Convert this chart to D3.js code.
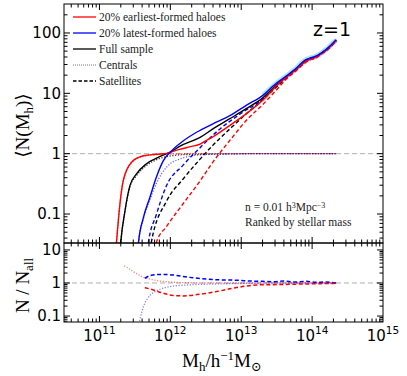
<!DOCTYPE html>
<html>
<head>
<meta charset="UTF-8">
<script src="https://d3js.org/d3.v7.min.js"></script>
<style>
  body { margin: 0; background: #fff; }
  svg { display: block; }
</style>
</head>
<body>
<div id="chart"></div>
<script>
// each curve: [log10(Mh), log10(value)]
const fullAll = [[11.28,-1.8],[11.3,-1.48],[11.36,-0.95],[11.43,-0.53],[11.52,-0.34],[11.66,-0.17],[11.85,-0.05],[12.02,0.04],[12.13,0.12],[12.42,0.27],[12.6,0.41],[12.84,0.58],[13.07,0.745],[13.3,0.92],[13.5,1.14],[13.64,1.28],[13.78,1.41],[13.9,1.53],[13.96,1.57],[14.04,1.6],[14.12,1.66],[14.2,1.72],[14.34,1.88]];
const earlyAll = [[11.22,-1.8],[11.24,-1.48],[11.335,-0.45],[11.45,-0.145],[11.62,-0.035],[11.8,-0.01],[11.95,0.005],[12.02,0.03],[12.13,0.07],[12.3,0.12],[12.42,0.16],[12.51,0.22],[12.6,0.28],[12.84,0.47],[13.07,0.66],[13.3,0.88],[13.5,1.13],[13.64,1.27],[13.78,1.4],[13.9,1.52],[13.96,1.56],[14.04,1.59],[14.12,1.65],[14.2,1.72],[14.34,1.87]];
const lateAll = [[11.53,-1.8],[11.55,-1.48],[11.62,-1.06],[11.71,-0.73],[11.8,-0.4],[11.9,-0.12],[12.02,0.05],[12.18,0.21],[12.37,0.355],[12.6,0.495],[12.84,0.63],[13.07,0.8],[13.31,0.97],[13.45,1.12],[13.5,1.17],[13.64,1.29],[13.78,1.42],[13.9,1.55],[13.96,1.58],[14.04,1.61],[14.12,1.66],[14.2,1.73],[14.34,1.89]];

const fullCen = [[11.28,-1.8],[11.3,-1.48],[11.36,-0.96],[11.43,-0.55],[11.52,-0.37],[11.66,-0.2],[11.85,-0.08],[12.02,-0.035],[12.2,-0.015],[12.42,-0.01],[12.8,-0.005],[13.2,0],[14.34,0]];
const earlyCen = [[11.22,-1.8],[11.24,-1.48],[11.335,-0.46],[11.45,-0.15],[11.62,-0.04],[11.8,-0.015],[12.0,-0.005],[12.4,0],[14.34,0]];
const lateCen = [[11.53,-1.8],[11.55,-1.48],[11.62,-1.08],[11.71,-0.77],[11.8,-0.5],[11.95,-0.22],[12.18,-0.07],[12.42,-0.02],[12.65,-0.008],[13.12,0],[14.34,0]];

const fullSat = [[11.7,-1.8],[11.73,-1.48],[11.95,-0.78],[12.18,-0.42],[12.42,-0.09],[12.6,0.14],[12.84,0.41],[13.07,0.66],[13.26,0.85],[13.5,1.11],[13.64,1.256],[13.78,1.393],[13.9,1.515],[13.96,1.558],[14.04,1.589],[14.12,1.65],[14.2,1.712],[14.34,1.874]];
const earlySat = [[11.77,-1.8],[11.8,-1.48],[11.95,-1.2],[12.18,-0.83],[12.42,-0.45],[12.6,-0.14],[12.84,0.22],[13.07,0.55],[13.31,0.82],[13.5,1.06],[13.64,1.24],[13.78,1.38],[13.9,1.505],[13.96,1.55],[14.04,1.58],[14.12,1.64],[14.2,1.71],[14.34,1.865]];
const lateSat = [[11.66,-1.8],[11.69,-1.48],[11.8,-1.02],[11.95,-0.52],[12.18,-0.19],[12.42,0.1],[12.7,0.41],[13.0,0.67],[13.3,0.9],[13.5,1.14],[13.64,1.27],[13.78,1.4],[13.9,1.53],[13.96,1.57],[14.04,1.6],[14.12,1.65],[14.2,1.72],[14.34,1.88]];

// ratios to the full sample
const ratioCenEarly = [[11.35,0.52],[11.42,0.43],[11.48,0.34],[11.56,0.24],[11.64,0.16],[11.75,0.1],[11.85,0.06],[12.0,0.03],[12.18,0.01],[12.6,0.003],[13.0,0],[14.34,0]];
const ratioCenLate = [[11.54,-1.4],[11.62,-0.72],[11.67,-0.5],[11.71,-0.38],[11.77,-0.28],[11.83,-0.21],[11.99,-0.11],[12.23,-0.06],[12.65,-0.03],[13.12,-0.01],[13.5,0],[14.34,0]];
const ratioSatLate = [[11.64,0.14],[11.71,0.22],[11.85,0.26],[12.02,0.245],[12.27,0.17],[12.65,0.1],[12.98,0.08],[13.12,0.06],[13.3,0.05],[13.45,0.04],[13.6,0.06],[13.75,0.03],[13.92,0.05],[14.05,0.02],[14.2,0.03],[14.34,0]];
const ratioSatEarly = [[11.64,-0.14],[11.76,-0.21],[11.9,-0.31],[12.04,-0.38],[12.18,-0.39],[12.42,-0.34],[12.65,-0.26],[12.88,-0.16],[13.05,-0.1],[13.21,-0.06],[13.45,-0.05],[13.68,-0.04],[13.9,-0.03],[14.1,-0.02],[14.34,-0.01]];

const massTicks = [1e11, 1e12, 1e13, 1e14, 1e15];
const massTickExp = ["11", "12", "13", "14", "15"];
const nTicks = [0.1, 1, 10, 100];
const nTickLabels = ["0.1", "1", "10", "100"];
const ratioTicks = [0.1, 1, 10];
const ratioTickLabels = ["0.1", "1", "10"];
const legendLabels = ["20% earliest-formed haloes", "20% latest-formed haloes", "Full sample", "Centrals", "Satellites"];

const W = 407, H = 376;
const left = 64, right = 383, topY = 4, midY = 243, botY = 322;
const RED = "#ff0000", BLUE = "#0000ff";

const svg = d3.select("#chart").append("svg").attr("width", W).attr("height", H);

const x = d3.scaleLog().domain([Math.pow(10, 10.5), 1e15]).range([left, right]);
const yTop = d3.scaleLog().domain([Math.pow(10, -1.48), Math.pow(10, 2.48)]).range([midY, topY]);
const yBot = d3.scaleLog().domain([Math.pow(10, -1.18), Math.pow(10, 1.21)]).range([botY, midY]);

const defs = svg.append("defs");
defs.append("clipPath").attr("id", "clipTop").append("rect")
  .attr("x", left).attr("y", topY).attr("width", right - left).attr("height", midY - topY);
defs.append("clipPath").attr("id", "clipBot").append("rect")
  .attr("x", left).attr("y", midY).attr("width", right - left).attr("height", botY - midY);

const lineTop = d3.line().x(d => x(Math.pow(10, d[0]))).y(d => yTop(Math.pow(10, d[1]))).curve(d3.curveMonotoneX);
const lineBot = d3.line().x(d => x(Math.pow(10, d[0]))).y(d => yBot(Math.pow(10, d[1]))).curve(d3.curveMonotoneX);

const DOT = "1.2,1.6", DASH = "4,2.5";

const gTop = svg.append("g").attr("clip-path", "url(#clipTop)");
const gBot = svg.append("g").attr("clip-path", "url(#clipBot)");

// reference lines at 1
gTop.append("line").attr("x1", left).attr("x2", right).attr("y1", yTop(1)).attr("y2", yTop(1))
  .attr("stroke", "#b0b0b0").attr("stroke-dasharray", "5,3").attr("stroke-width", 1);
gBot.append("line").attr("x1", left).attr("x2", right).attr("y1", yBot(1)).attr("y2", yBot(1))
  .attr("stroke", "#b0b0b0").attr("stroke-dasharray", "5,3").attr("stroke-width", 1);

// error bands on the tail
gTop.append("path").attr("d", lineTop(earlyAll.filter(d => d[0] >= 13.3)))
  .attr("fill", "none").attr("stroke", "#ff9aa8").attr("stroke-opacity", 0.45).attr("stroke-width", 4);
gTop.append("path").attr("d", lineTop(lateAll.filter(d => d[0] >= 13.3)))
  .attr("fill", "none").attr("stroke", "#44c8ff").attr("stroke-opacity", 0.45).attr("stroke-width", 5);

const topCurves = [
  { d: fullCen, c: "#000", dash: DOT, w: 1.3, o: 0.8 },
  { d: earlyCen, c: RED, dash: DOT, w: 1.3, o: 0.8 },
  { d: lateCen, c: BLUE, dash: DOT, w: 1.3, o: 0.6 },
  { d: fullSat, c: "#000", dash: DASH, w: 1.4, o: 1 },
  { d: earlySat, c: RED, dash: DASH, w: 1.4, o: 1 },
  { d: lateSat, c: BLUE, dash: DASH, w: 1.4, o: 1 },
  { d: fullAll, c: "#000", dash: null, w: 1.4, o: 1 },
  { d: earlyAll, c: RED, dash: null, w: 1.4, o: 1 },
  { d: lateAll, c: BLUE, dash: null, w: 1.4, o: 1 }
];
topCurves.forEach(k => {
  gTop.append("path").attr("d", lineTop(k.d)).attr("fill", "none")
    .attr("stroke", k.c).attr("stroke-width", k.w).attr("stroke-opacity", k.o)
    .attr("stroke-dasharray", k.dash);
});

const botCurves = [
  { d: ratioCenEarly, c: RED, dash: DOT, w: 1.3, o: 0.5 },
  { d: ratioCenLate, c: BLUE, dash: DOT, w: 1.3, o: 0.5 },
  { d: ratioSatLate, c: BLUE, dash: DASH, w: 1.5, o: 1 },
  { d: ratioSatEarly, c: RED, dash: DASH, w: 1.5, o: 1 }
];
botCurves.forEach(k => {
  gBot.append("path").attr("d", lineBot(k.d)).attr("fill", "none")
    .attr("stroke", k.c).attr("stroke-width", k.w).attr("stroke-opacity", k.o)
    .attr("stroke-dasharray", k.dash);
});

// frames and ticks
function isMajor(v) {
  const l = Math.log10(v);
  return Math.abs(l - Math.round(l)) < 1e-6;
}
function frame(y, y0, y1) {
  const g = svg.append("g").attr("stroke", "#000").attr("stroke-width", 1);
  x.ticks().forEach(v => {
    const px = x(v);
    if (px <= left + 0.5 || px >= right - 0.5) return;
    const len = isMajor(v) ? 6 : 3.5;
    g.append("line").attr("x1", px).attr("x2", px).attr("y1", y1).attr("y2", y1 - len);
    g.append("line").attr("x1", px).attr("x2", px).attr("y1", y0).attr("y2", y0 + len);
  });
  y.ticks().forEach(v => {
    const py = y(v);
    if (py <= y0 + 0.5 || py >= y1 - 0.5) return;
    const len = isMajor(v) ? 6 : 3.5;
    g.append("line").attr("x1", left).attr("x2", left + len).attr("y1", py).attr("y2", py);
    g.append("line").attr("x1", right).attr("x2", right - len).attr("y1", py).attr("y2", py);
  });
  g.append("rect").attr("x", left).attr("y", y0).attr("width", right - left).attr("height", y1 - y0)
    .attr("fill", "none");
}
frame(yTop, topY, midY);
frame(yBot, midY, botY);

const sans = "DejaVu Sans, sans-serif";
const serif = "Liberation Serif, DejaVu Serif, serif";

nTicks.forEach((v, i) => {
  svg.append("text").attr("x", left - 3).attr("y", yTop(v)).attr("dy", "0.36em")
    .attr("text-anchor", "end").style("font-family", sans).style("font-size", "15px")
    .text(nTickLabels[i]);
});
ratioTicks.forEach((v, i) => {
  svg.append("text").attr("x", left - 3).attr("y", yBot(v)).attr("dy", "0.36em")
    .attr("text-anchor", "end").style("font-family", sans).style("font-size", "15px")
    .text(ratioTickLabels[i]);
});
massTicks.forEach((v, i) => {
  const t = svg.append("text").attr("x", x(v)).attr("y", 341)
    .attr("text-anchor", "middle").style("font-family", sans).style("font-size", "15px");
  t.append("tspan").text("10");
  t.append("tspan").attr("dy", -7).style("font-size", "10.5px").text(massTickExp[i]);
});

// axis labels
const yl1 = svg.append("text").attr("transform", `translate(29,${(topY + midY) / 2 + 2}) rotate(-90)`)
  .attr("text-anchor", "middle").style("font-family", serif).style("font-size", "19px");
yl1.append("tspan").text("\u27E8N(M");
yl1.append("tspan").attr("dy", 4).style("font-size", "13px").text("h");
yl1.append("tspan").attr("dy", -4).text(")\u27E9");

const yl2 = svg.append("text").attr("transform", `translate(29,${(midY + botY) / 2 + 3}) rotate(-90)`)
  .attr("text-anchor", "middle").style("font-family", serif).style("font-size", "19px");
yl2.append("tspan").text("N / N");
yl2.append("tspan").attr("dy", 4).style("font-size", "13px").text("all");

const xl = svg.append("text").attr("x", 222).attr("y", 367)
  .attr("text-anchor", "middle").style("font-family", serif).style("font-size", "19px");
xl.append("tspan").text("M");
xl.append("tspan").attr("dy", 4).style("font-size", "13px").text("h");
xl.append("tspan").attr("dy", -4).text("/h");
xl.append("tspan").attr("dy", -7).style("font-size", "13px").text("\u22121");
xl.append("tspan").attr("dy", 7).text("M");
xl.append("tspan").attr("dy", 4).style("font-size", "13px").text("\u2299");

// legend
const legendStyles = [
  { c: RED, dash: null }, { c: BLUE, dash: null }, { c: "#000", dash: null },
  { c: "#777", dash: "1,1" }, { c: "#000", dash: "3.5,2" }
];
legendLabels.forEach((lab, i) => {
  const yy = 17 + i * 16;
  svg.append("line").attr("x1", 73).attr("x2", 96).attr("y1", yy).attr("y2", yy)
    .attr("stroke", legendStyles[i].c).attr("stroke-width", i === 3 ? 1 : 1.3)
    .attr("stroke-dasharray", legendStyles[i].dash);
  svg.append("text").attr("x", 99).attr("y", yy).attr("dy", "0.33em")
    .style("font-family", serif).style("font-size", "11.5px").style("fill", "#222").text(lab);
});

// annotations
svg.append("text").attr("x", 313).attr("y", 36).style("font-family", sans).style("font-size", "19px").text("z=1");
const a1 = svg.append("text").attr("x", 245).attr("y", 211).style("font-family", serif).style("font-size", "11.5px").style("fill", "#222");
a1.append("tspan").text("n = 0.01 h");
a1.append("tspan").attr("dy", -3).style("font-size", "8px").text("3");
a1.append("tspan").attr("dy", 3).text("Mpc");
a1.append("tspan").attr("dy", -3).style("font-size", "8px").text("\u22123");
svg.append("text").attr("x", 245).attr("y", 226).style("font-family", serif).style("font-size", "11.5px").style("fill", "#222")
  .text("Ranked by stellar mass");
</script>
</body>
</html>
